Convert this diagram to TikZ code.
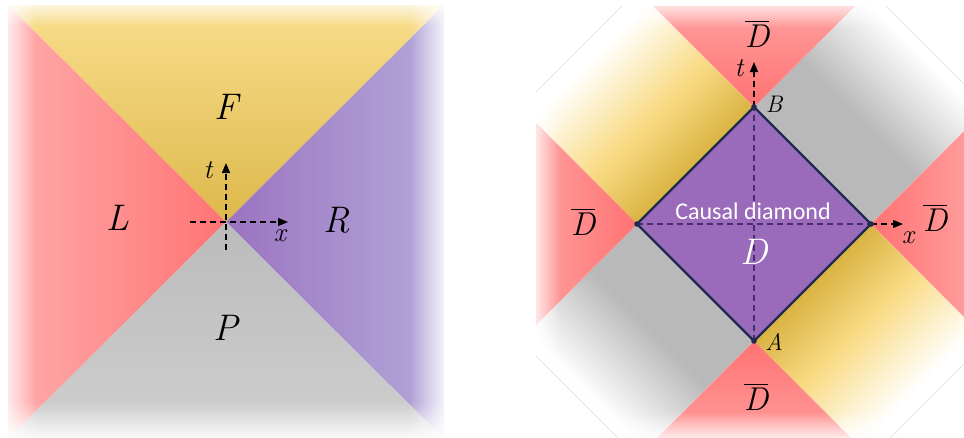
\documentclass[tikz,border=0pt]{standalone}
\usepackage{amsmath,fontspec}
\usetikzlibrary{arrows.meta,fadings}
\newfontfamily\carlito{Carlito}

\definecolor{futl}{HTML}{F9DE8C}
\definecolor{futd}{HTML}{DDB84B}
\definecolor{lefl}{HTML}{FFABAB}
\definecolor{lefd}{HTML}{FF7373}
\definecolor{rigd}{HTML}{9C73C1}
\definecolor{rigl}{HTML}{B3A9DA}
\definecolor{pasd}{HTML}{BBBBBB}
\definecolor{pasl}{HTML}{CFCFCF}
\definecolor{goldd}{HTML}{D9B241}
\definecolor{goldl}{HTML}{F9DB84}
\definecolor{bandg}{HTML}{B9B9B9}
\definecolor{redd}{HTML}{FF7272}
\definecolor{redl}{HTML}{FF9E9E}
\definecolor{diamf}{HTML}{9A6BBA}
\definecolor{diamb}{HTML}{1E2A50}
\definecolor{dashin}{HTML}{4A2C6B}

\pgfdeclareverticalshading{yband}{100bp}{color(0bp)=(goldd); color(25bp)=(goldd); color(45bp)=(goldl); color(70bp)=(white); color(100bp)=(white)}
\pgfdeclareverticalshading{gband}{100bp}{color(0bp)=(bandg); color(25bp)=(bandg); color(45bp)=(bandg); color(72bp)=(white); color(100bp)=(white)}

\newcommand{\dbar}{\raisebox{0pt}{$\overline{\hbox{\itshape D}}$}}

\begin{document}
\begin{tikzpicture}[x=1pt, y=-1pt,
    axis/.style={line width=1.3pt, dash pattern=on 6pt off 4pt},
    tip/.style={-{Triangle[length=10pt,width=8pt]}},
    big/.style={font=\fontsize{37}{40}\selectfont\itshape},
    mid/.style={font=\fontsize{33}{36}\selectfont\itshape},
    lab/.style={font=\fontsize{27}{30}\selectfont\itshape},
    pt/.style={font=\fontsize{24}{28}\selectfont\itshape},
    cut/.style={gray!25, line width=0.4pt}]
  \useasboundingbox (0,0) rectangle (964,437);

  \coordinate (o)  at (226,222);
  \coordinate (nw) at (8,5);
  \coordinate (ne) at (444,5);
  \coordinate (se) at (444,439);
  \coordinate (sw) at (8,439);

  \shade[top color=futl, bottom color=futd] (nw) -- (ne) -- (o) -- cycle;
  \shade[left color=lefl, right color=lefd] (nw) -- (o) -- (sw) -- cycle;
  \shade[left color=rigd, right color=rigl] (ne) -- (se) -- (o) -- cycle;
  \shade[top color=pasd, bottom color=pasl] (sw) -- (o) -- (se) -- cycle;

  \fill[white, path fading=east]  (-2,0) rectangle (36,444);
  \fill[white, path fading=south] (0,-4) rectangle (450,26);
  \fill[white, path fading=west]  (410,0) rectangle (450,444);
  \fill[white, path fading=north] (0,402) rectangle (450,442);

  \coordinate (lb) at (226,250);
  \coordinate (lt) at (226,163);
  \coordinate (ll) at (190,222);
  \coordinate (lr) at (288,222);
  \draw[axis, tip] (lb) -- (lt);
  \draw[axis, tip] (ll) -- (lr);

  \node[big] (f) at (226,107) {F};
  \node[big] (l) at (118,218) {L};
  \node[big] (r) at (337,220) {R};
  \node[big] (p) at (226,328) {P};
  \node[lab] (t1) at (208,170) {t};
  \node[lab] (x1) at (280,236) {x};

  \coordinate (A)  at (754,341);
  \coordinate (B)  at (754,107);
  \coordinate (dl) at (637,224);
  \coordinate (dr) at (871,224);
  \coordinate (tt) at (754,62);
  \coordinate (xx) at (903,224);

  \begin{scope}
    \clip (622,6) -- (886,6) -- (972,92) -- (972,356) -- (886,442)
      -- (622,442) -- (536,356) -- (536,92) -- cycle;
    \begin{scope}[transform canvas={shift={(754,224)}, rotate=45}]
      \shade[shading=yband] (-82.7,-82.7) rectangle (82.7,-248);
      \shade[shading=yband, shading angle=180] (-82.7,82.7) rectangle (82.7,248);
      \shade[shading=gband, shading angle=-90] (82.7,-82.7) rectangle (248,82.7);
      \shade[shading=gband, shading angle=90] (-248,-82.7) rectangle (-82.7,82.7);
    \end{scope}
    \shade[top color=redl, bottom color=redd] (B) -- (653,6) -- (855,6) -- cycle;
    \shade[top color=redd, bottom color=redl] (A) -- (855,442) -- (653,442) -- cycle;
    \shade[left color=redl, right color=redd] (dl) -- (536,123) -- (536,325) -- cycle;
    \shade[left color=redd, right color=redl] (dr) -- (972,123) -- (972,325) -- cycle;
    \fill[white, path fading=south] (530,-4) rectangle (980,28);
    \fill[white, path fading=east]  (528,0) rectangle (560,444);
    \fill[white, path fading=north] (530,412) rectangle (980,444);
  \end{scope}
  \draw[cut] (622,6) -- (536,92);
  \draw[cut] (886,6) -- (972,92);
  \draw[cut] (972,356) -- (886,442);
  \draw[cut] (622,442) -- (536,356);

  \filldraw[fill=diamf, draw=diamb, line width=2.4pt, line join=round]
    (A) -- (dr) -- (B) -- (dl) -- cycle;
  \draw[axis, dashin] (A) -- (B);
  \draw[axis, dashin] (dl) -- (dr);
  \draw[axis, tip] (B) -- (tt);
  \draw[axis, tip] (dr) -- (xx);
  \foreach \v in {A,B,dl,dr}
    \fill[diamb] (\v) circle (2.8);

  \node[lab] (t2) at (739,68) {t};
  \node[lab] (x2) at (908,238) {x};
  \node[pt] (b) at (774,104) {B};
  \node[pt] (a) at (774,342) {A};
  \node[font=\carlito\fontsize{24}{28}\selectfont, text=white] (cd) at (753,211) {Causal diamond};
  \node[big, text=white] (d) at (754,252) {D};
  \node[mid] (db1) at (757,34) {\dbar};
  \node[mid] (db2) at (583,222) {\dbar};
  \node[mid] (db3) at (935,218) {\dbar};
  \node[mid] (db4) at (756,397) {\dbar};
\end{tikzpicture}
\end{document}
